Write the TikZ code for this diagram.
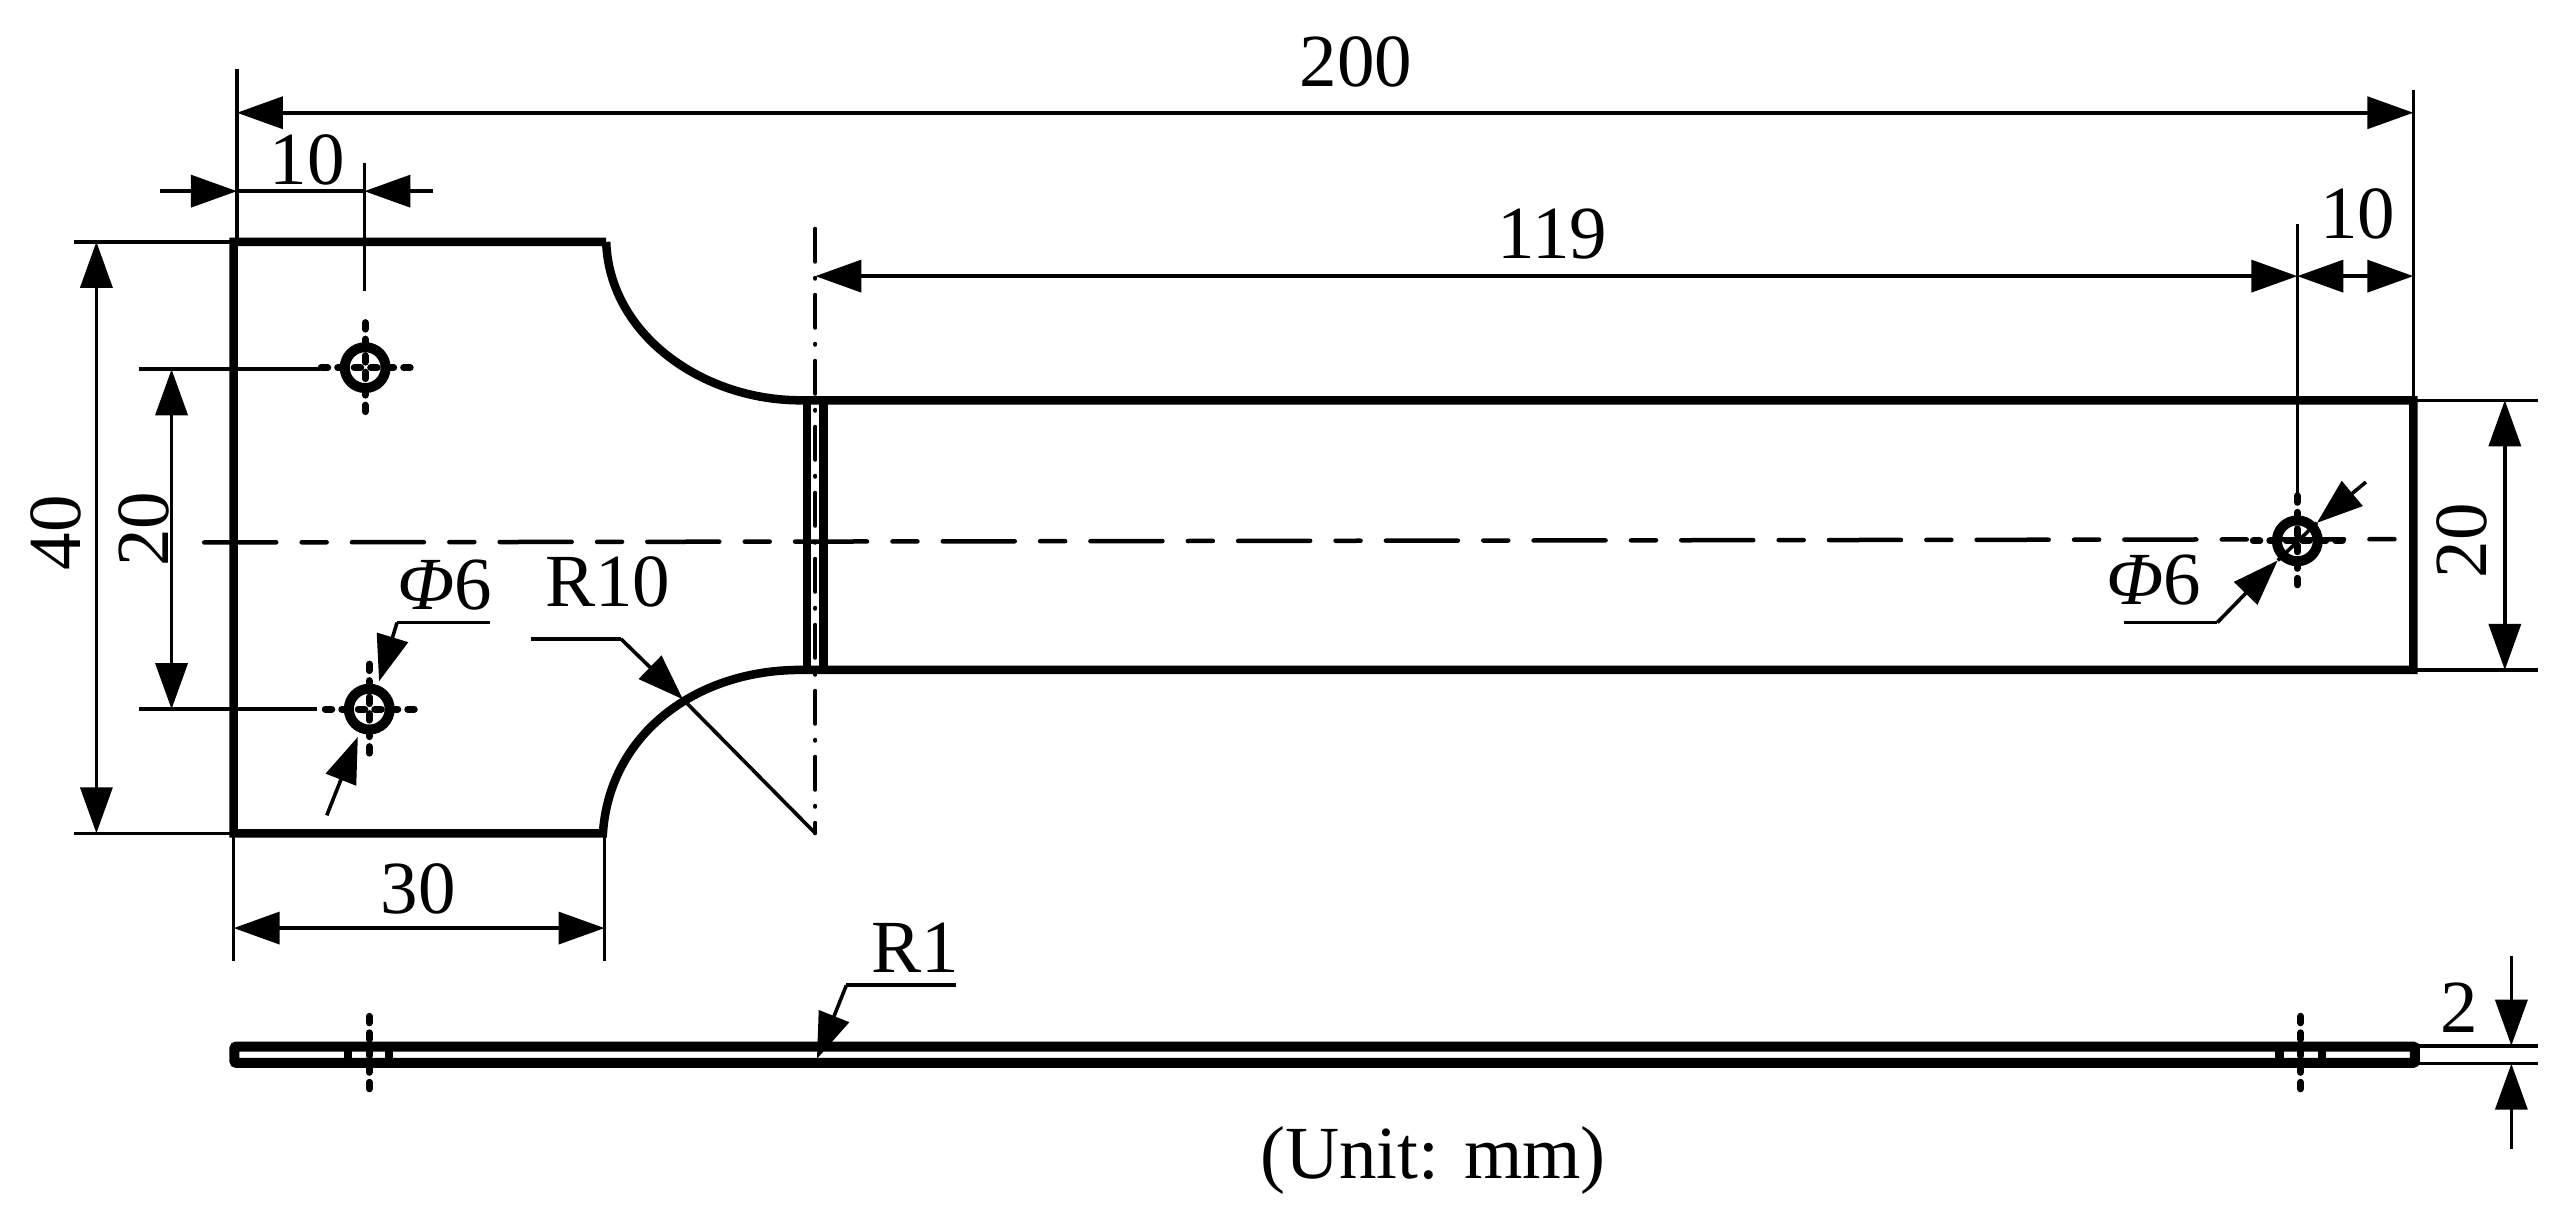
\documentclass[tikz,border=0pt]{standalone}
\usepackage{fontspec}
\setmainfont{Liberation Serif}
\usetikzlibrary{arrows.meta}
\tikzset{
  thinline/.style={line width=3.6pt},
  thickline/.style={line width=8.5pt,line join=miter},
  sideline/.style={line width=10pt},
  dimline/.style={thinline,>={Triangle[length=46pt,width=32pt]}},
  centerh/.style={line width=4.5pt,line cap=round,dash pattern=on 72pt off 25.4pt on 25pt off 25.3pt},
  centerv/.style={line width=4pt,line cap=round,dash pattern=on 33pt off 16pt on 1pt off 16pt},
  holecross/.style={line width=7pt,line cap=round,dash pattern=on 6.5pt off 10pt},
  holering/.style={line width=10pt},
  label/.style={font=\fontsize{75}{75}\selectfont,inner sep=0pt}
}
\begin{document}
\begin{tikzpicture}[x=1.63393pt,y=-1.63393pt]
  \useasboundingbox (0,0) rectangle (1568,752.8);

  %Points
  \coordinate (tl) at (143,148);
  \coordinate (tr) at (371,148);
  \coordinate (bl) at (143,510);
  \coordinate (br) at (369,510);
  \coordinate (nt) at (490,245);
  \coordinate (nb) at (490,410);
  \coordinate (et) at (1477,245);
  \coordinate (eb) at (1477,410);
  \coordinate (h1) at (223.5,225);
  \coordinate (h2) at (226,434);
  \coordinate (h3) at (1406,331);

  %Labels
  \node[label] at (830,38) (l200) {200};
  \node[label] at (188,98) (l10a) {10};
  \node[label] at (950,143) (l119) {119};
  \node[label] at (1443,131) (l10b) {10};
  \node[label,rotate=90] at (34,326) (l40) {40};
  \node[label,rotate=90] at (88,324) (l20a) {20};
  \node[label,rotate=90] at (1507,331) (l20b) {20};
  \node[label] at (256,544) (l30) {30};
  \node[label] at (272,358) (lphia) {{\itshape Φ}6};
  \node[label] at (1318,355) (lphib) {{\itshape Φ}6};
  \node[label] at (372,356) (lr10) {R10};
  \node[label] at (560,580) (lr1) {R1};
  \node[label] at (1505,617) (l2) {2};
  \node[label] at (877,710) (unit) {(Unit: mm)};

  %Outline
  \draw[thickline] (tr) -- (tl) -- (bl) -- (br)
    .. controls (373,450) and (425,410) .. (nb) -- (eb) -- (et) -- (nt)
    .. controls (430,245) and (373,205) .. (tr);
  \draw[thickline] (494,245) -- (494,410);
  \draw[thickline] (504,245) -- (504,410);

  %Center lines
  \draw[centerh] (125,332) -- (1466,330);
  \draw[centerv] (499,140) -- (499,510);

  %Holes
  \foreach \h in {h1,h2,h3} {
    \draw[holering] (\h) circle (12.5);
    \draw[holecross] ([xshift=-44pt]\h) -- ([xshift=45pt]\h);
    \draw[holecross] ([yshift=-44pt]\h) -- ([yshift=45pt]\h);
  }

  %Extension lines
  \draw[thinline] (145,42) -- (145,148);
  \draw[thinline] (1477,55) -- (1477,245);
  \draw[thinline] (223,100) -- (223,178);
  \draw[thinline] (1406,137) -- (1406,306);
  \draw[thinline] (45,148) -- (tl);
  \draw[thinline] (45,510) -- (bl);
  \draw[thinline] (85,226) -- (196,226);
  \draw[thinline] (85,434) -- (194,434);
  \draw[thinline] (143,510) -- (143,588);
  \draw[thinline] (370,510) -- (370,588);
  \draw[thinline] (et) -- (1553,245);
  \draw[thinline] (eb) -- (1553,410);

  %Dimensions
  \draw[dimline,<->] (145,69) -- (1477,69);
  \draw[dimline,<->] (499,169) -- (1406,169);
  \draw[dimline,->] (98,117) -- (145,117);
  \draw[thinline] (145,117) -- (223,117);
  \draw[dimline,->] (265,117) -- (223,117);
  \draw[dimline,->] (1440,169) -- (1406,169);
  \draw[dimline,->] (1440,169) -- (1477,169);
  \draw[dimline,<->] (59,148) -- (59,510);
  \draw[dimline,<->] (105,226) -- (105,434);
  \draw[dimline,<->] (1533,245) -- (1533,410);
  \draw[dimline,<->] (143,568) -- (370,568);

  %Leaders
  \draw[thinline] (300,381) -- (243,381);
  \draw[dimline,->] (243,381) -- (232,417);
  \draw[dimline,->] (200,499) -- (219,451);
  \draw[thinline] (325,391) -- (380,391);
  \draw[dimline,->] (380,391) -- (418,428);
  \draw[thinline] (418,428) -- (499,510);
  \draw[thinline] (1300,381) -- (1357,381);
  \draw[dimline,->] (1357,381) -- (1394,343);
  \draw[thinline] (1394,343) -- (1418,320);
  \draw[dimline,->] (1448,295) -- (1418,320);

  %Side view
  \draw[sideline,rounded corners=2pt] (143.5,640.5) rectangle (1478,650.5);
  \foreach \x in {213,238,1395,1421} \draw[thickline] (\x,640) -- (\x,651);
  \draw[holecross] (226,622) -- (226,672);
  \draw[holecross] (1408,622) -- (1408,672);
  \draw[thinline] (585,603) -- (518,603);
  \draw[dimline,->] (518,603) -- (500,648);
  \draw[thinline] (1480,640) -- (1553,640);
  \draw[thinline] (1480,651) -- (1553,651);
  \draw[dimline,->] (1537,585) -- (1537,640);
  \draw[dimline,->] (1537,703) -- (1537,651);
\end{tikzpicture}
\end{document}
